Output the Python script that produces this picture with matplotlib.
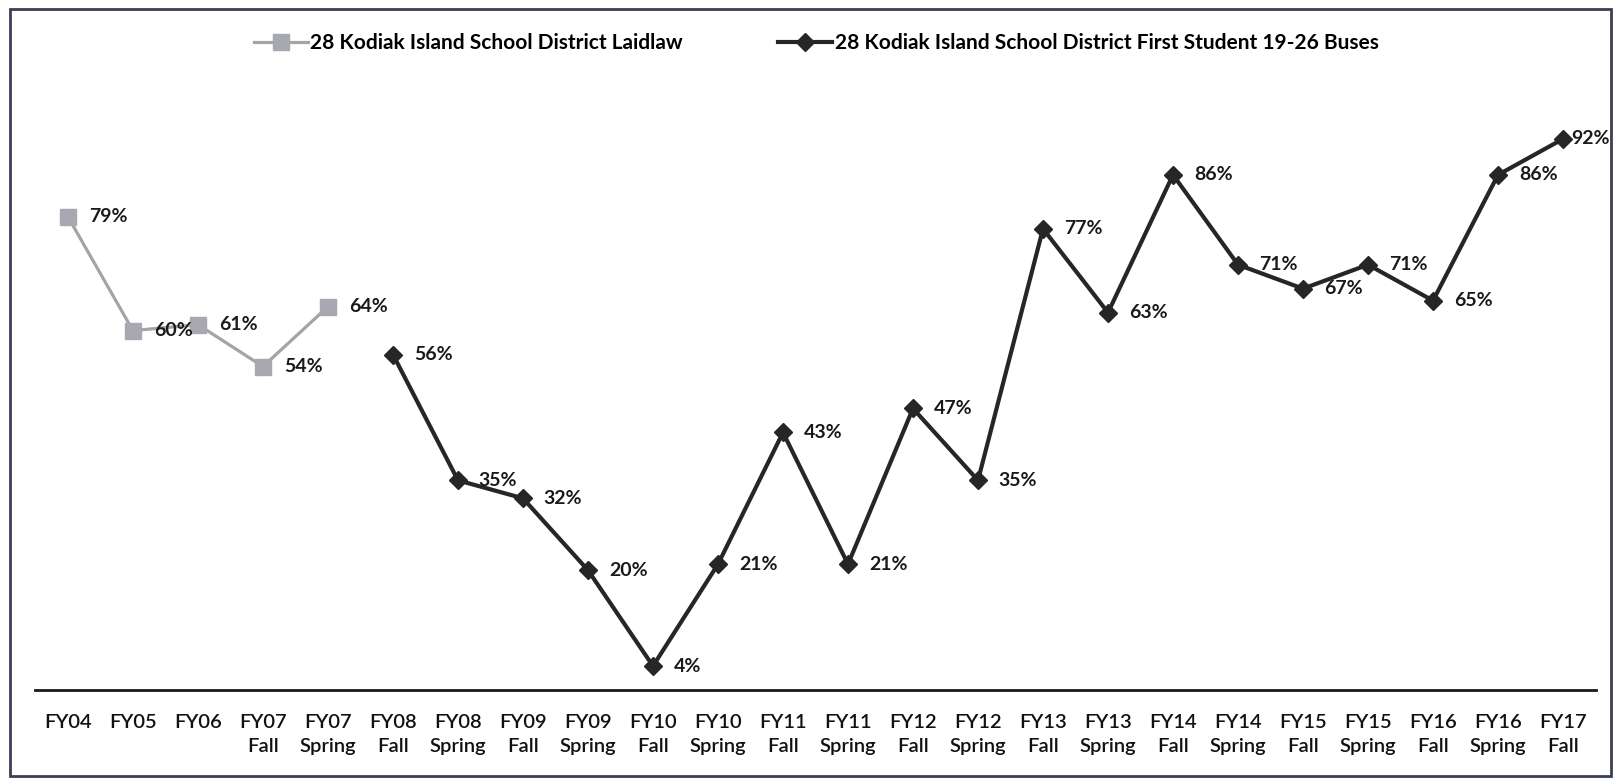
import matplotlib
matplotlib.use("Agg")
import matplotlib.pyplot as plt
from matplotlib.patches import Rectangle

categories = ["FY04", "FY05", "FY06", "FY07\nFall", "FY07\nSpring", "FY08\nFall", "FY08\nSpring",
              "FY09\nFall", "FY09\nSpring", "FY10\nFall", "FY10\nSpring", "FY11\nFall", "FY11\nSpring",
              "FY12\nFall", "FY12\nSpring", "FY13\nFall", "FY13\nSpring", "FY14\nFall", "FY14\nSpring",
              "FY15\nFall", "FY15\nSpring", "FY16\nFall", "FY16\nSpring", "FY17\nFall"]
laidlaw_name = "28 Kodiak Island School District Laidlaw"
laidlaw_values = [79, 60, 61, 54, 64]
first_name = "28 Kodiak Island School District First Student 19-26 Buses"
first_values = [56, 35, 32, 20, 4, 21, 43, 21, 47, 35, 77, 63, 86, 71, 67, 71, 65, 86, 92]

plt.rcParams['font.family'] = ['Lato', 'DejaVu Sans']

fig = plt.figure(figsize=(16.19, 7.81), dpi=100)
ax = fig.add_axes([0.0219, 0.1165, 0.9636, 0.767])

x_l = list(range(len(laidlaw_values)))
x_f = list(range(len(laidlaw_values), len(laidlaw_values) + len(first_values)))

gray = "#A4A4A8"
dark = "#262626"
ax.plot(x_l, laidlaw_values, color=gray, lw=2.3, marker='s', ms=11, mfc="#A8A8B0", mec="#A8A8B0",
        label=laidlaw_name)
ax.plot(x_f, first_values, color=dark, lw=3.0, marker='D', ms=9, mfc=dark, mec=dark,
        label=first_name)

n_total = len(categories)
for xs, vs in ((x_l, laidlaw_values), (x_f, first_values)):
    for xi, v in zip(xs, vs):
        dx = 6 if xi == n_total - 1 else 15
        ax.annotate(f"{v}%", (xi, v), xytext=(dx, 0), textcoords='offset points',
                    ha='left', va='center', fontsize=14, fontweight='bold', color="#1a1a1a")

ax.set_xlim(-0.5, n_total - 0.5)
ax.set_ylim(0, 100)
ax.set_xticks(range(n_total))
ax.set_xticklabels(categories, fontsize=14.5, fontweight='semibold', color="#111111",
                   linespacing=1.55, va='top')
ax.tick_params(axis='x', length=0, pad=17)
ax.set_yticks([])
for s in ('top', 'left', 'right'):
    ax.spines[s].set_visible(False)
ax.spines['bottom'].set_color("#1a1a1a")
ax.spines['bottom'].set_linewidth(2.0)

leg = fig.legend(loc='center', bbox_to_anchor=(0.504, 0.945), ncol=2, frameon=False,
                 handlelength=2.6, handletextpad=0.1, columnspacing=4.6,
                 prop={'weight': 'bold', 'size': 15})

fig.patches.append(Rectangle((0.006, 0.006), 0.989, 0.982, transform=fig.transFigure,
                             fill=False, edgecolor="#3a3f55", lw=2.0))

fig.savefig("out.png", dpi=100)
